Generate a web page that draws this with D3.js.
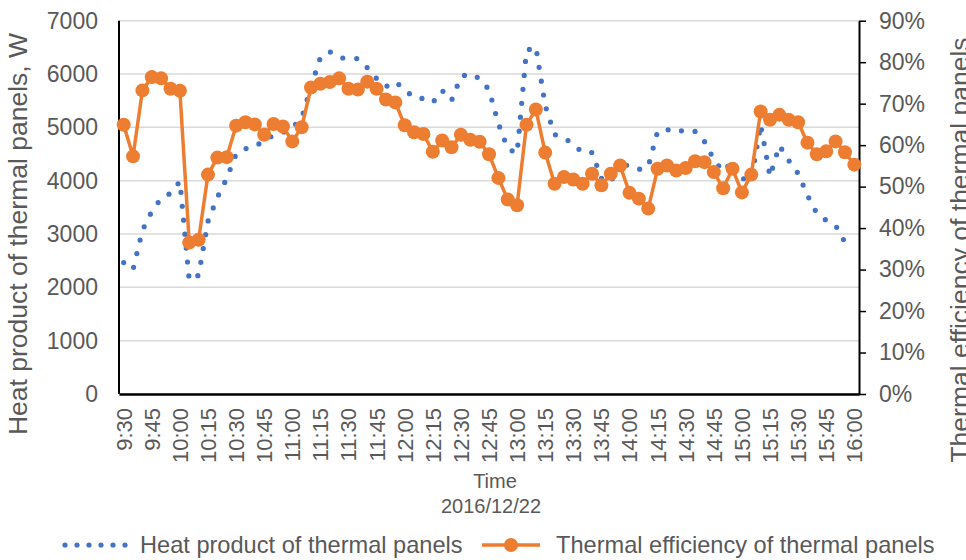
<!DOCTYPE html>
<html>
<head>
<meta charset="utf-8">
<script src="https://cdn.jsdelivr.net/npm/d3@7"></script>
<style>
  body { margin: 0; background: #fff; }
  svg text { font-family: "Liberation Sans", Arial, sans-serif; fill: #595959; }
</style>
</head>
<body>
<svg id="chart" width="966" height="560"></svg>
<script>
// categories: every 5 minutes, 9:30 - 16:00
var times = ["9:30","9:35","9:40","9:45","9:50","9:55","10:00","10:05","10:10","10:15","10:20","10:25",
  "10:30","10:35","10:40","10:45","10:50","10:55","11:00","11:05","11:10","11:15","11:20","11:25",
  "11:30","11:35","11:40","11:45","11:50","11:55","12:00","12:05","12:10","12:15","12:20","12:25",
  "12:30","12:35","12:40","12:45","12:50","12:55","13:00","13:05","13:10","13:15","13:20","13:25",
  "13:30","13:35","13:40","13:45","13:50","13:55","14:00","14:05","14:10","14:15","14:20","14:25",
  "14:30","14:35","14:40","14:45","14:50","14:55","15:00","15:05","15:10","15:15","15:20","15:25",
  "15:30","15:35","15:40","15:45","15:50","15:55","16:00"];

// heat product, W
var heat = [2465,2334,3070,3425,3669,3762,3987,2134,2227,3238,3687,4043,
  4501,4599,4632,4763,4848,4904,4997,5166,5765,6308,6420,6308,
  6289,6289,6120,5915,5765,5858,5708,5559,5540,5465,5690,5503,
  5952,6008,5915,5708,5072,4604,4511,6439,6513,5409,4866,4810,
  4679,4529,4529,4043,3968,4380,4249,4211,4267,4923,4960,4904,
  4960,4923,4735,4398,4174,4361,4043,4005,5054,4080,4660,4380,
  4136,3725,3388,3257,3163,2845,null];

// thermal efficiency, %
var eff = [64.9,57.3,73.2,76.4,76.1,73.6,73.1,36.5,37.2,52.9,57.0,57.1,
  64.7,65.5,65.0,62.5,65.1,64.5,60.9,64.3,73.9,74.8,75.2,76.1,
  73.6,73.4,75.3,73.6,71.0,70.3,64.8,63.1,62.7,58.4,61.1,59.5,
  62.5,61.3,60.8,57.8,52.1,46.9,45.5,64.9,68.6,58.2,50.7,52.3,
  51.7,50.7,53.1,50.3,53.1,55.1,48.5,47.1,44.7,54.3,55.1,53.9,
  54.5,56.1,55.9,53.5,49.6,54.3,48.6,52.9,68.1,66.1,67.3,66.1,
  65.5,60.6,57.8,58.5,60.9,58.3,55.3];

var heatTicks = [0,1000,2000,3000,4000,5000,6000,7000];
var effTicks = [0,10,20,30,40,50,60,70,80,90];
var timeTicks = times.filter(function(d, i){ return i % 3 === 0; });

var blue = "#4472C4", orange = "#ED7D31";

var svg = d3.select("#chart");
var plotLeft = 119, plotRight = 859, plotTop = 20.7, plotBottom = 394;

var x = d3.scaleBand().domain(times).range([plotLeft, plotRight]);
var yL = d3.scaleLinear().domain([0, 7000]).range([plotBottom, plotTop]);
var yR = d3.scaleLinear().domain([0, 90]).range([plotBottom, plotTop]);
function cx(d, i){ return x(times[i]) + x.bandwidth() / 2; }

//gridlines
svg.append("g").selectAll("line").data(heatTicks).enter().append("line")
    .attr("x1", plotLeft).attr("x2", plotRight)
    .attr("y1", function(d){ return yL(d); }).attr("y2", function(d){ return yL(d); })
    .attr("stroke", "#d9d9d9").attr("stroke-width", 1.5);

//left axis
var gL = svg.append("g").attr("transform", "translate(" + plotLeft + ",0)")
    .call(d3.axisLeft(yL).tickValues(heatTicks).tickSize(0).tickPadding(21).tickFormat(d3.format("d")));
gL.select(".domain").remove();
gL.selectAll("text").style("font-size", "23px").attr("fill", "#595959");
svg.append("line").attr("x1", plotLeft).attr("x2", plotLeft).attr("y1", plotTop).attr("y2", plotBottom)
    .attr("stroke", "#000").attr("stroke-width", 2);

//right axis
var gR = svg.append("g").attr("transform", "translate(" + plotRight + ",0)")
    .call(d3.axisRight(yR).tickValues(effTicks).tickSize(7).tickSizeOuter(0).tickPadding(13)
      .tickFormat(function(d){ return d + "%"; }));
gR.select(".domain").attr("stroke", "#000").attr("stroke-width", 2);
gR.selectAll(".tick line").attr("stroke", "#000").attr("stroke-width", 1.5);
gR.selectAll("text").style("font-size", "23px").attr("fill", "#595959");

//bottom axis
var gB = svg.append("g").attr("transform", "translate(0," + plotBottom + ")")
    .call(d3.axisBottom(x).tickValues(timeTicks).tickSize(0).tickSizeOuter(0));
gB.select(".domain").attr("stroke", "#000").attr("stroke-width", 2.5);
gB.selectAll("text")
    .style("font-size", "22px").attr("fill", "#595959")
    .attr("transform", "rotate(-90)")
    .attr("text-anchor", "end")
    .attr("x", -14).attr("y", 0).attr("dy", "0.36em");

//heat product (dotted line)
var heatLine = d3.line()
    .defined(function(d){ return d != null; })
    .x(cx).y(function(d){ return yL(d); });
svg.append("path").datum(heat)
    .attr("d", heatLine)
    .attr("fill", "none").attr("stroke", blue).attr("stroke-width", 5.2)
    .attr("stroke-linecap", "round").attr("stroke-dasharray", "0 14");

//efficiency (line + markers)
var effLine = d3.line().x(cx).y(function(d){ return yR(d); });
svg.append("path").datum(eff)
    .attr("d", effLine)
    .attr("fill", "none").attr("stroke", orange).attr("stroke-width", 3.5)
    .attr("stroke-linejoin", "round");
svg.append("g").selectAll("circle").data(eff).enter().append("circle")
    .attr("cx", cx).attr("cy", function(d){ return yR(d); })
    .attr("r", 7).attr("fill", orange);

//axis titles
svg.append("text")
    .attr("transform", "translate(27,234) rotate(-90)")
    .attr("text-anchor", "middle").style("font-size", "26.5px")
    .text("Heat product of thermal panels, W");
svg.append("text")
    .attr("transform", "translate(969,250) rotate(-90)")
    .attr("text-anchor", "middle").style("font-size", "26.5px")
    .text("Thermal efficiency of thermal panels");
svg.append("text").attr("x", 495).attr("y", 488)
    .attr("text-anchor", "middle").style("font-size", "20px").text("Time");
svg.append("text").attr("x", 491).attr("y", 513)
    .attr("text-anchor", "middle").style("font-size", "20px").text("2016/12/22");

//legend
var ly = 545;
svg.append("line").attr("x1", 65).attr("x2", 126).attr("y1", ly).attr("y2", ly)
    .attr("stroke", blue).attr("stroke-width", 5.2)
    .attr("stroke-linecap", "round").attr("stroke-dasharray", "0 12");
svg.append("text").attr("x", 140).attr("y", ly + 8).style("font-size", "23.6px")
    .text("Heat product of thermal panels");
svg.append("line").attr("x1", 482).attr("x2", 540).attr("y1", ly).attr("y2", ly)
    .attr("stroke", orange).attr("stroke-width", 3.5);
svg.append("circle").attr("cx", 511).attr("cy", ly).attr("r", 7).attr("fill", orange);
svg.append("text").attr("x", 556).attr("y", ly + 8).style("font-size", "23.6px")
    .text("Thermal efficiency of thermal panels");
</script>
</body>
</html>
